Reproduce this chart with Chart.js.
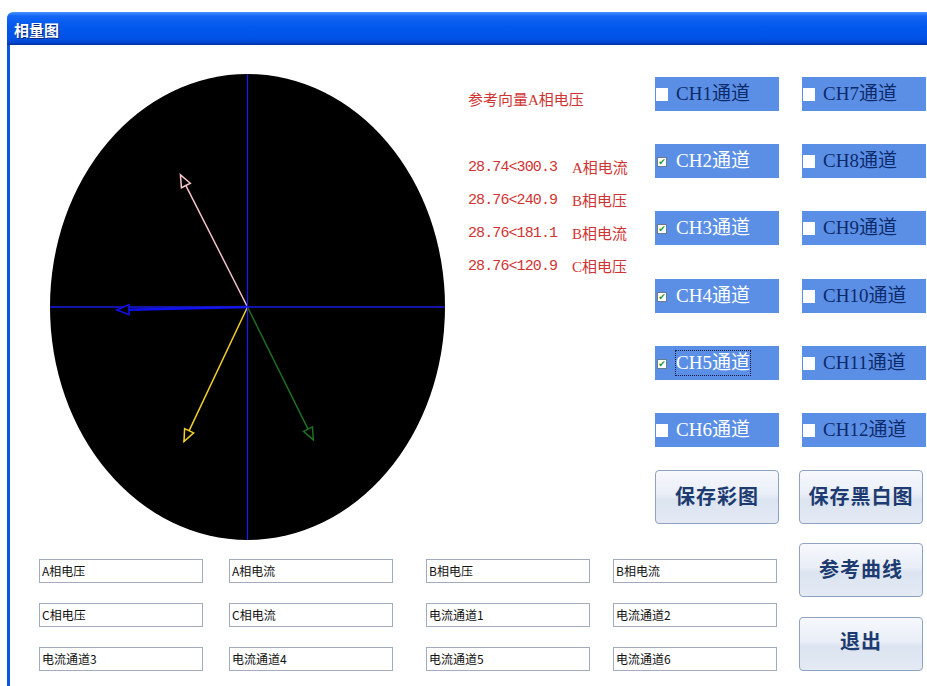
<!DOCTYPE html>
<html>
<head>
<meta charset="utf-8">
<script src="https://cdn.jsdelivr.net/npm/chart.js"></script>
<style>
  body { margin: 0; width: 927px; height: 686px; background: #fff; position: relative; overflow: hidden;
         font-family: "Liberation Serif", "Noto Sans CJK SC", serif; }
  .abs { position: absolute; }
  #titlebar { left: 7px; top: 12px; width: 920px; height: 33px; border-radius: 6px 0 0 0;
    background: linear-gradient(#4a92ff 0%, #1566f4 12%, #0058ec 45%, #0052e6 80%, #0046d0 92%, #0030a0 100%); }
  #titlebar span { position: absolute; left: 7px; top: 7px; color: #fff; font: bold 15px "Noto Sans CJK SC"; text-shadow: 1px 1px 0 #0a2a80; }
  #leftborder { left: 7px; top: 45px; width: 3px; height: 641px; background: #0a56e0; }
  #chartBox { left: 50px; top: 74px; width: 395px; height: 466px; }
  .red { color: #cf3434; white-space: pre; line-height: 20px; height: 20px; }
  .val { font-family: "Liberation Mono", monospace; font-size: 15px; letter-spacing: -0.9px; }
  .name { font-family: "Liberation Serif", "Noto Sans CJK SC"; font-size: 15px; }
  .ch { width: 124px; height: 34px; background: #5b8fe6; }
  .ch .lbl { position: absolute; left: 21px; top: 5px; font-size: 19px; line-height: 24px; color: #fff; }
  .ch .lbl.dark { color: #0d2a6a; }
  .ch .lbl.focus { outline: 1px dotted #1a1a40; outline-offset: 0; }
  .ch .box { position: absolute; left: 1px; top: 11px; width: 12px; height: 13px; background: #fff; }
  .ch .box.on { left: 2px; top: 13px; width: 8px; height: 8px; border: 1px solid #6a7a90; background: #fff;
    color: #1d9a1d; font: bold 9px/8px "DejaVu Sans"; text-align: center; }
  .btn { border: 1px solid #8fa2c0; border-radius: 4px; box-sizing: border-box;
    background: linear-gradient(#f6f8fc 0%, #e9eef7 45%, #dbe4f0 55%, #e4eaf4 100%);
    color: #1d3b70; font: bold 20px "Noto Sans CJK SC"; text-align: center; letter-spacing: 1px; }
  .field { width: 164px; height: 24px; box-sizing: border-box; border: 1.5px solid #a3acbc; background: #fff;
    font: 12px "Noto Sans CJK SC"; line-height: 21px; padding-left: 2px; color: #111; }
</style>
</head>
<body>
<div id="titlebar" class="abs"><span>相量图</span></div>
<div id="leftborder" class="abs"></div>
<div id="chartBox" class="abs"><canvas id="phasor" width="395" height="466"></canvas></div>
<div id="info"></div>
<div id="channels"></div>
<div id="buttons"></div>
<div id="fields"></div>
<script>
// Data
const refName = 'A相电压'
const phasorNames = ['A相电流', 'B相电压', 'B相电流', 'C相电压']
const phasorMags = [28.74, 28.76, 28.76, 28.76]
const phasorAngles = [300.3, 240.9, 181.1, 120.9]
const axisMax = 43.5

const channelNames = ['CH1通道', 'CH2通道', 'CH3通道', 'CH4通道', 'CH5通道', 'CH6通道',
  'CH7通道', 'CH8通道', 'CH9通道', 'CH10通道', 'CH11通道', 'CH12通道']
const channelChecked = [false, true, true, true, true, false, false, false, false, false, false, false]

const buttonNames = ['保存彩图', '保存黑白图', '参考曲线', '退出']
const fieldNames = ['A相电压', 'A相电流', 'B相电压', 'B相电流', 'C相电压', 'C相电流',
  '电流通道1', '电流通道2', '电流通道3', '电流通道4', '电流通道5', '电流通道6']

// Styles
const phasorColors = ['#1f6e22', '#f2d02a', '#1010f0', '#f6c4ca']
const phasorWidths = [1.5, 1.5, 2.5, 1.5]
const axisColor = '#1a1ae0'

// Side text
const info = document.getElementById('info')
function addText(parent, cls, text, x, y) {
  const d = document.createElement('div')
  d.className = 'abs ' + cls
  d.style.left = x + 'px'
  d.style.top = y + 'px'
  d.textContent = text
  parent.appendChild(d)
  return d
}
addText(info, 'red name', '参考向量' + refName, 468, 90)
phasorNames.forEach((n, i) => {
  const y = 158 + i * 33
  addText(info, 'red val', phasorMags[i].toFixed(2) + '<' + phasorAngles[i].toFixed(1), 468, y)
  addText(info, 'red name', n, 572, y)
})

// Channel panels
const channels = document.getElementById('channels')
channelNames.forEach((n, i) => {
  const col = Math.floor(i / 6), row = i % 6
  const p = document.createElement('div')
  p.className = 'abs ch'
  p.style.left = (655 + col * 147) + 'px'
  p.style.top = (77 + row * 67.2) + 'px'
  const b = document.createElement('div')
  b.className = 'box' + (channelChecked[i] ? ' on' : '')
  if (channelChecked[i]) b.textContent = '✔'
  p.appendChild(b)
  const l = document.createElement('div')
  l.className = 'lbl'
  if (col == 1 || i == 0) l.classList.add('dark')
  if (i == 4) l.classList.add('focus')
  l.textContent = n
  p.appendChild(l)
  channels.appendChild(p)
})

// Buttons
const btnPos = [[655, 470, 124], [799, 470, 124], [799, 543, 124], [799, 617, 124]]
const buttons = document.getElementById('buttons')
buttonNames.forEach((n, i) => {
  const b = document.createElement('div')
  b.className = 'abs btn'
  b.style.left = btnPos[i][0] + 'px'
  b.style.top = btnPos[i][1] + 'px'
  b.style.width = btnPos[i][2] + 'px'
  b.style.height = '54px'
  b.style.lineHeight = (i == 3 ? 46 : 50) + 'px'
  b.textContent = n
  buttons.appendChild(b)
})

// Name fields
const fieldX = [39, 229, 426, 613]
const fields = document.getElementById('fields')
fieldNames.forEach((n, i) => {
  const f = document.createElement('div')
  f.className = 'abs field'
  f.style.left = fieldX[i % 4] + 'px'
  f.style.top = (559 + Math.floor(i / 4) * 44) + 'px'
  f.textContent = n
  fields.appendChild(f)
})

// Phasor chart
const rad = a => a * Math.PI / 180
const tips = phasorMags.map((m, i) => ({ x: m * Math.cos(rad(phasorAngles[i])), y: m * Math.sin(rad(phasorAngles[i])) }))

const datasets = [
  { data: [{ x: -axisMax, y: 0 }, { x: axisMax, y: 0 }], borderColor: axisColor, borderWidth: 1.3 },
  { data: [{ x: 0, y: -axisMax }, { x: 0, y: axisMax }], borderColor: axisColor, borderWidth: 1.3 },
]
tips.forEach((t, i) => {
  datasets.push({ data: [{ x: 0, y: 0 }, t], borderColor: phasorColors[i], borderWidth: phasorWidths[i], arrow: true })
})
datasets.forEach(d => { d.showLine = true; d.pointRadius = 0; d.fill = false })

const backdrop = {
  id: 'backdrop',
  beforeDatasetsDraw(chart) {
    const { ctx, scales: { x, y } } = chart
    const cx = x.getPixelForValue(0), cy = y.getPixelForValue(0)
    ctx.save()
    ctx.beginPath()
    ctx.ellipse(cx, cy, x.getPixelForValue(axisMax) - cx, cy - y.getPixelForValue(axisMax), 0, 0, Math.PI * 2)
    ctx.fillStyle = '#000'
    ctx.fill()
    ctx.restore()
  }
}

const arrowHeads = {
  id: 'arrowHeads',
  afterDatasetsDraw(chart) {
    const { ctx, scales: { x, y } } = chart
    chart.data.datasets.forEach(ds => {
      if (!ds.arrow) return
      const p0 = ds.data[0], p1 = ds.data[1]
      const x0 = x.getPixelForValue(p0.x), y0 = y.getPixelForValue(p0.y)
      const x1 = x.getPixelForValue(p1.x), y1 = y.getPixelForValue(p1.y)
      const len = Math.hypot(x1 - x0, y1 - y0)
      const ux = (x1 - x0) / len, uy = (y1 - y0) / len
      const bx = x1 - ux * 12, by = y1 - uy * 12
      ctx.save()
      ctx.beginPath()
      ctx.moveTo(x1, y1)
      ctx.lineTo(bx - uy * 5, by + ux * 5)
      ctx.lineTo(bx + uy * 5, by - ux * 5)
      ctx.closePath()
      ctx.fillStyle = '#000'
      ctx.fill()
      ctx.lineWidth = 1.5
      ctx.strokeStyle = ds.borderColor
      ctx.stroke()
      ctx.restore()
    })
  }
}

new Chart(document.getElementById('phasor'), {
  type: 'scatter',
  data: { datasets: datasets },
  options: {
    responsive: false,
    animation: false,
    layout: { padding: 0 },
    plugins: { legend: { display: false }, tooltip: { enabled: false } },
    scales: {
      x: { min: -axisMax, max: axisMax, display: false },
      y: { min: -axisMax, max: axisMax, display: false },
    },
  },
  plugins: [backdrop, arrowHeads],
})
</script>
</body>
</html>
